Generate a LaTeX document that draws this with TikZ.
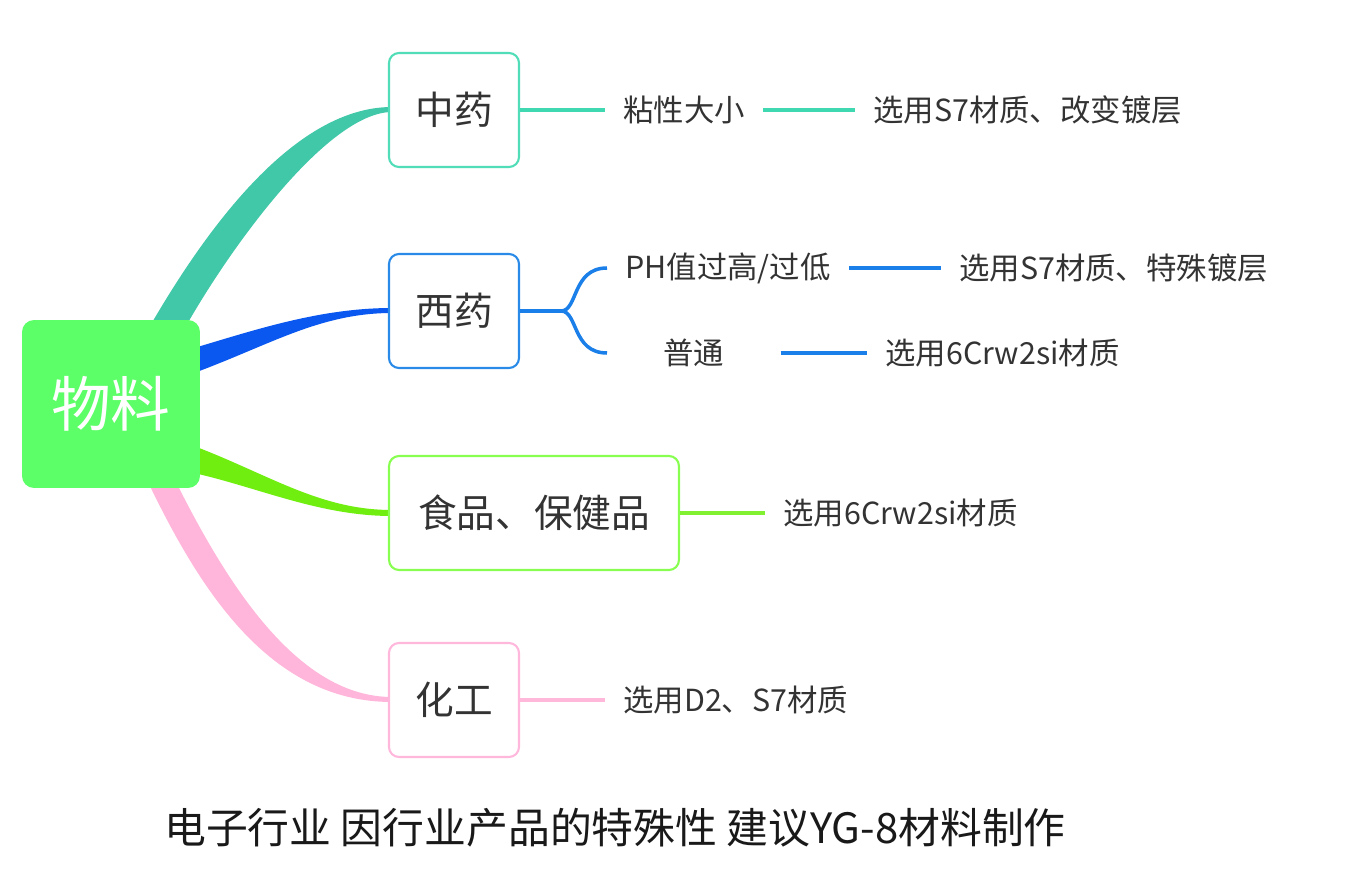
\documentclass[tikz,border=0pt]{standalone}
\usepackage{fontspec}
\setmainfont{Noto Sans CJK SC}
\usetikzlibrary{calc}
\definecolor{rootfill}{HTML}{5CFF68}
\definecolor{tealb}{HTML}{40C8A8}
\definecolor{tealbox}{HTML}{50DDB8}
\definecolor{teall}{HTML}{3FD8B0}
\definecolor{blueb}{HTML}{0A58F0}
\definecolor{bluebox}{HTML}{2A8AE8}
\definecolor{bluel}{HTML}{1A7FE8}
\definecolor{greenb}{HTML}{70EE10}
\definecolor{greenbox}{HTML}{88FF50}
\definecolor{greenl}{HTML}{80F030}
\definecolor{pinkb}{HTML}{FFB6DA}
\definecolor{pinkbox}{HTML}{FFB8DC}
\definecolor{pinkl}{HTML}{FFB8DA}
\definecolor{txt}{HTML}{333333}
\begin{document}
\begin{tikzpicture}[x=0.02cm,y=-0.02cm,
  rootbox/.style={fill=rootfill, rounded corners=0.24cm, minimum width=3.56cm, minimum height=3.36cm, text=white, font=\fontsize{34}{40}\selectfont, inner sep=0},
  catbox/.style={draw=#1, line width=1.2pt, fill=white, rounded corners=0.2cm, minimum height=2.28cm, minimum width=2.6cm, text=txt, font=\fontsize{22}{26}\selectfont, inner sep=0},
  leaf/.style={text=txt, font=\fontsize{17.3}{20}\selectfont, inner xsep=0.36cm, inner ysep=0, anchor=west},
  thin/.style={draw=#1, line width=2pt}
]
\useasboundingbox (0,0) rectangle (1347,875);
\fill[white] (0,0) rectangle (1347,875);

\coordinate (rootc) at (111,404);

% tapered branches
\fill[tealb] (150,326) .. controls (200,240) and (290,107) .. (392,107) -- (392,112) .. controls (330,112) and (235,240) .. (186,326) -- cycle;
\fill[blueb] (194,348) .. controls (255,330) and (320,308) .. (392,308) -- (392,313) .. controls (320,313) and (270,345) .. (194,373) -- cycle;
\fill[greenb] (194,446) .. controls (270,475) and (320,510) .. (392,510) -- (392,516) .. controls (320,516) and (260,488) .. (194,473) -- cycle;
\fill[pinkb] (148,482) .. controls (200,590) and (270,702) .. (392,702) -- (392,697) .. controls (300,697) and (230,590) .. (176,482) -- cycle;

\node[rootbox] (root) at (rootc) {物料};

\node[catbox=tealbox] (zy) at (454,110) {中药};
\node[catbox=bluebox] (xy) at (454,311) {西药};
\node[catbox=greenbox, minimum width=5.8cm] (sp) at (534,513) {食品、保健品};
\node[catbox=pinkbox] (hg) at (454,700) {化工};

% leaves
\node[leaf] (zy1) at (605,110) {粘性大小};
\node[leaf] (zy2) at (855,110) {选用S7材质、改变镀层};
\node[leaf] (ph) at (607,268) {PH值过高/过低};
\node[leaf] (ph2) at (941,268) {选用S7材质、特殊镀层};
\node[leaf, minimum width=3.46cm, inner xsep=0, align=center, anchor=west] (pt) at (607,353) {普通};
\node[leaf] (pt2) at (867,353) {选用6Crw2si材质};
\node[leaf] (sp1) at (765,513) {选用6Crw2si材质};
\node[leaf] (hg1) at (605,700) {选用D2、S7材质};

\coordinate (br) at (561,311);

% thin connectors
\draw[thin=teall] (zy.east) -- (zy1.west);
\draw[thin=teall] (zy1.east) -- (zy2.west);
\draw[thin=bluel] (xy.east) -- (br);
\draw[thin=bluel] (br) .. controls (578,311) and (572,268) .. (ph.west);
\draw[thin=bluel] (br) .. controls (578,311) and (572,353) .. (pt.west);
\draw[thin=bluel] (ph.east) -- (ph2.west);
\draw[thin=bluel] (pt.east) -- (pt2.west);
\draw[thin=greenl] (sp.east) -- (sp1.west);
\draw[thin=pinkl] (hg.east) -- (hg1.west);

% caption
\node[text=black!90, font=\fontsize{23.8}{28}\selectfont, inner sep=0] (cap) at (615,828) {电子行业 因行业产品的特殊性 建议YG-8材料制作};
\end{tikzpicture}
\end{document}
